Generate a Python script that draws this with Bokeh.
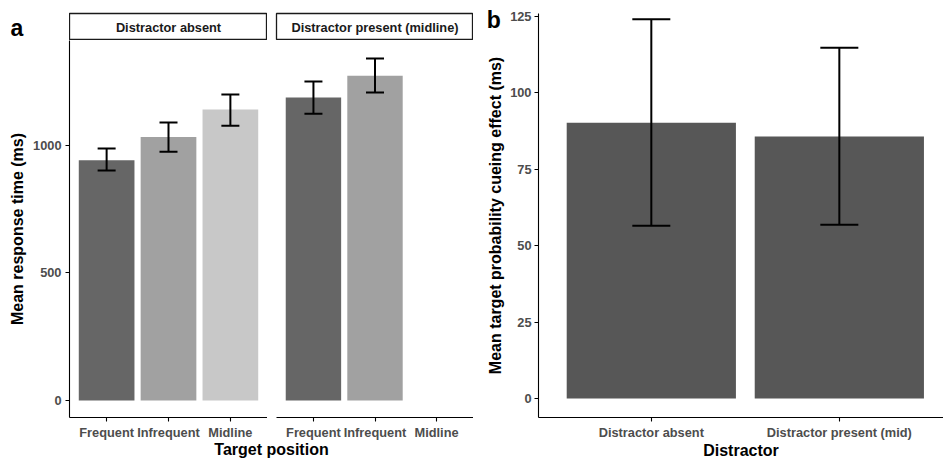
from bokeh.plotting import figure
from bokeh.layouts import row, column
from bokeh.models import (ColumnDataSource, Whisker, TeeHead, Label,
                          Range1d, FixedTicker, GridBox)
from bokeh.embed import file_html
from bokeh.resources import INLINE

FONT = "Liberation Sans"

# ---------------- data ----------------
positions = ["Frequent", "Infrequent", "Midline"]
pos_colors = ["#666666", "#A1A1A1", "#C8C8C8"]
panel_titles = ["Distractor absent", "Distractor present (midline)"]

absent_pos = ["Frequent", "Infrequent", "Midline"]
absent_rt = [942, 1033, 1141]
absent_lo = [902, 976, 1078]
absent_hi = [988, 1090, 1200]

present_pos = ["Frequent", "Infrequent"]
present_rt = [1188, 1274]
present_lo = [1125, 1208]
present_hi = [1251, 1341]

rt_ticks = [0, 500, 1000]

distractors = ["Distractor absent", "Distractor present (mid)"]
cue_effect = [90.2, 85.7]
cue_lo = [56.5, 56.8]
cue_hi = [124.0, 114.7]
cue_ticks = [0, 25, 50, 75, 100, 125]
cue_color = "#575757"


def style_axis(ax):
    ax.axis_line_color = "black"
    ax.axis_line_width = 1.1
    ax.major_tick_line_color = "black"
    ax.major_tick_line_width = 1.1
    ax.major_tick_out = 4
    ax.major_tick_in = 0
    ax.minor_tick_line_color = None
    ax.major_label_text_font = FONT
    ax.major_label_text_font_size = "12.8px"
    ax.major_label_text_font_style = "bold"
    ax.major_label_text_color = "#4D4D4D"
    ax.axis_label_text_font = FONT
    ax.axis_label_text_font_size = "16px"
    ax.axis_label_text_font_style = "bold"
    ax.axis_label_text_color = "black"


def base_fig(**kw):
    p = figure(output_backend="svg", toolbar_location=None, **kw)
    p.outline_line_color = None
    p.background_fill_color = "white"
    p.border_fill_color = "white"
    return p


def error_bars(src, head):
    w = Whisker(source=src, base="x", upper="hi", lower="lo",
                dimension="height", line_color="black", line_width=2,
                upper_head=TeeHead(size=head, line_color="black", line_width=2),
                lower_head=TeeHead(size=head, line_color="black", line_width=2))
    w.level = "overlay"
    return w


def text_fig(w, h, text, fx, fy, size, left_border=0, align="left",
             transparent=False):
    """A figure used only to hold one piece of text; fx, fy are fractions of its frame."""
    f = base_fig(width=w, height=h, x_range=Range1d(0, 1), y_range=Range1d(0, 1),
                 x_axis_type=None, y_axis_type=None,
                 min_border_left=left_border, min_border_right=0,
                 min_border_top=0, min_border_bottom=0)
    if transparent:
        f.background_fill_alpha = 0
        f.border_fill_alpha = 0
    f.add_layout(Label(x=fx, y=fy, text=text, text_align=align,
                       text_baseline="middle", text_font=FONT,
                       text_font_style="bold", text_font_size=size,
                       text_color="black"))
    return f


def strip(text, left_border, frame_w):
    s = base_fig(width=left_border + frame_w, height=40,
                 x_range=Range1d(0, 1), y_range=Range1d(0, 1),
                 x_axis_type=None, y_axis_type=None,
                 min_border_left=left_border, min_border_right=0,
                 min_border_top=13, min_border_bottom=0)
    s.outline_line_color = "#1A1A1A"
    s.outline_line_width = 1.3
    s.add_layout(Label(x=0.5, y=0.5, text=text, text_align="center",
                       text_baseline="middle", text_font=FONT,
                       text_font_style="bold", text_font_size="12.8px",
                       text_color="#1A1A1A"))
    return s


def rt_panel(xs, ys, lo, hi, left_border, frame_w, show_y):
    xi = [positions.index(x) for x in xs]
    colors = [pos_colors[i] for i in xi]
    src = ColumnDataSource(dict(x=xi, top=ys, lo=lo, hi=hi, color=colors))
    p = base_fig(width=left_border + frame_w, height=402,
                 x_range=Range1d(-0.6, len(positions) - 0.4),
                 y_range=Range1d(-67, 1412),
                 min_border_left=left_border, min_border_right=0,
                 min_border_top=0, min_border_bottom=25)
    p.vbar(x="x", top="top", bottom=0, width=0.9, source=src,
           fill_color="color", line_color=None)
    p.add_layout(error_bars(src, 18))
    p.grid.visible = False
    ticks = list(range(len(positions)))
    p.xaxis.ticker = FixedTicker(ticks=ticks)
    p.xaxis.major_label_overrides = {i: n for i, n in zip(ticks, positions)}
    for ax in p.xaxis:
        style_axis(ax)
        ax.major_label_standoff = 3
    p.yaxis.ticker = FixedTicker(ticks=rt_ticks)
    for ax in p.yaxis:
        style_axis(ax)
        ax.major_label_standoff = 4
        ax.axis_label_standoff = 4
    if show_y:
        p.yaxis.axis_label = "Mean response time (ms)"
    else:
        p.yaxis.visible = False
    return p


# ---------------- panel a ----------------
afig = text_fig(69, 40, "a", 0.145, 0.475, "23px")
strip1 = strip(panel_titles[0], 0, 198)
strip2 = strip(panel_titles[1], 9, 197)

main1 = rt_panel(absent_pos, absent_rt, absent_lo, absent_hi, 69, 198, True)
main2 = rt_panel(present_pos, present_rt, present_lo, present_hi, 9, 197, False)

xlabA = text_fig(473, 17, "Target position", 0.5, 0.59, "16px",
                 left_border=69, align="center")

panelA = column(row(column(row(afig, strip1), main1), column(strip2, main2)), xlabA)

# ---------------- panel b ----------------
xidx = list(range(len(distractors)))
srcB = ColumnDataSource(dict(x=xidx, top=cue_effect, lo=cue_lo, hi=cue_hi))
pB = base_fig(width=470, height=442, x_range=Range1d(-0.6, 1.554),
              y_range=Range1d(-6.2, 125.9),
              min_border_left=65, min_border_right=0,
              min_border_top=13, min_border_bottom=25)
pB.vbar(x="x", top="top", bottom=0, width=0.9, source=srcB,
        fill_color=cue_color, line_color=None)
pB.add_layout(error_bars(srcB, 38))
pB.grid.visible = False
pB.xaxis.ticker = FixedTicker(ticks=xidx)
pB.xaxis.major_label_overrides = {i: d for i, d in zip(xidx, distractors)}
pB.yaxis.ticker = FixedTicker(ticks=cue_ticks)
for ax in pB.xaxis:
    style_axis(ax)
    ax.major_label_standoff = 3
for ax in pB.yaxis:
    style_axis(ax)
    ax.major_label_standoff = 3
    ax.axis_label_standoff = 3
pB.yaxis.axis_label = "Mean target probability cueing effect (ms)"

xlabB = text_fig(470, 17, "Distractor", 0.5, 0.55, "16px",
                 left_border=65, align="center")

panelB = column(pB, xlabB)
bfig = text_fig(40, 35, "b", 0.33, 0.43, "23px", transparent=True)
panelB_box = GridBox(children=[(panelB, 0, 0), (bfig, 0, 0)])

layout = row(panelA, panelB_box)

open("out.html", "w").write(file_html(layout, INLINE))
